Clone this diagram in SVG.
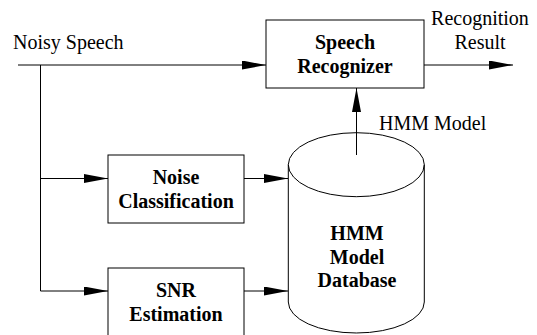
<svg xmlns="http://www.w3.org/2000/svg" width="537" height="335" viewBox="0 0 537 335">
  <style>
    .box { fill: #fff; stroke: #000; stroke-width: 1; }
    .wire { fill: none; stroke: #000; stroke-width: 1; }
    .lbl { font-family: "Liberation Serif", "Times New Roman", serif; font-size: 20px; fill: #000; }
    .bold { font-weight: bold; text-anchor: middle; }
    .mid { text-anchor: middle; }
  </style>
  <defs>
    <marker id="arrow" markerUnits="userSpaceOnUse" markerWidth="24" markerHeight="9" refX="24" refY="4.5" orient="auto">
      <path d="M0,0 L24,4.5 L0,9 Z" fill="#000"/>
    </marker>
  </defs>

  <rect width="537" height="335" fill="#fff"/>

  <!-- connectors -->
  <g id="connectors">
    <path class="wire" d="M18,65 L266,65" marker-end="url(#arrow)"/>
    <path class="wire" d="M40.5,65 L40.5,291"/>
    <path class="wire" d="M40.5,178.5 L108,178.5" marker-end="url(#arrow)"/>
    <path class="wire" d="M40.5,291 L108,291" marker-end="url(#arrow)"/>
    <path class="wire" d="M244,178.5 L288,178.5" marker-end="url(#arrow)"/>
    <path class="wire" d="M244,291 L288,291" marker-end="url(#arrow)"/>
    <path class="wire" d="M424,65 L513,65" marker-end="url(#arrow)"/>
    <path class="wire" d="M356.5,155 L356.5,88" marker-end="url(#arrow)"/>
  </g>

  <!-- free labels -->
  <g id="labels">
    <text class="lbl" x="13" y="48.5">Noisy Speech</text>
    <text class="lbl mid" x="480" y="25">Recognition</text>
    <text class="lbl mid" x="480" y="49">Result</text>
    <text class="lbl" x="379" y="130">HMM Model</text>
  </g>

  <g id="speech-recognizer">
    <rect class="box" x="266" y="20" width="158" height="68"/>
    <text class="lbl bold" x="345" y="49">Speech</text>
    <text class="lbl bold" x="345" y="73">Recognizer</text>
  </g>

  <g id="noise-classification">
    <rect class="box" x="108" y="155" width="136" height="68"/>
    <text class="lbl bold" x="176" y="184">Noise</text>
    <text class="lbl bold" x="176" y="208">Classification</text>
  </g>

  <g id="snr-estimation">
    <rect class="box" x="108" y="268" width="136" height="70"/>
    <text class="lbl bold" x="176" y="296.5">SNR</text>
    <text class="lbl bold" x="176" y="320.5">Estimation</text>
  </g>

  <g id="hmm-database">
    <path class="box" d="M288.3,164.7 L288.3,302 A68,31 0 0 0 424.3,302 L424.3,164.7"/>
    <ellipse class="wire" cx="356.3" cy="164.7" rx="68" ry="32"/>
    <text class="lbl bold" x="357" y="240">HMM</text>
    <text class="lbl bold" x="357" y="263.5">Model</text>
    <text class="lbl bold" x="357" y="287">Database</text>
  </g>
</svg>
